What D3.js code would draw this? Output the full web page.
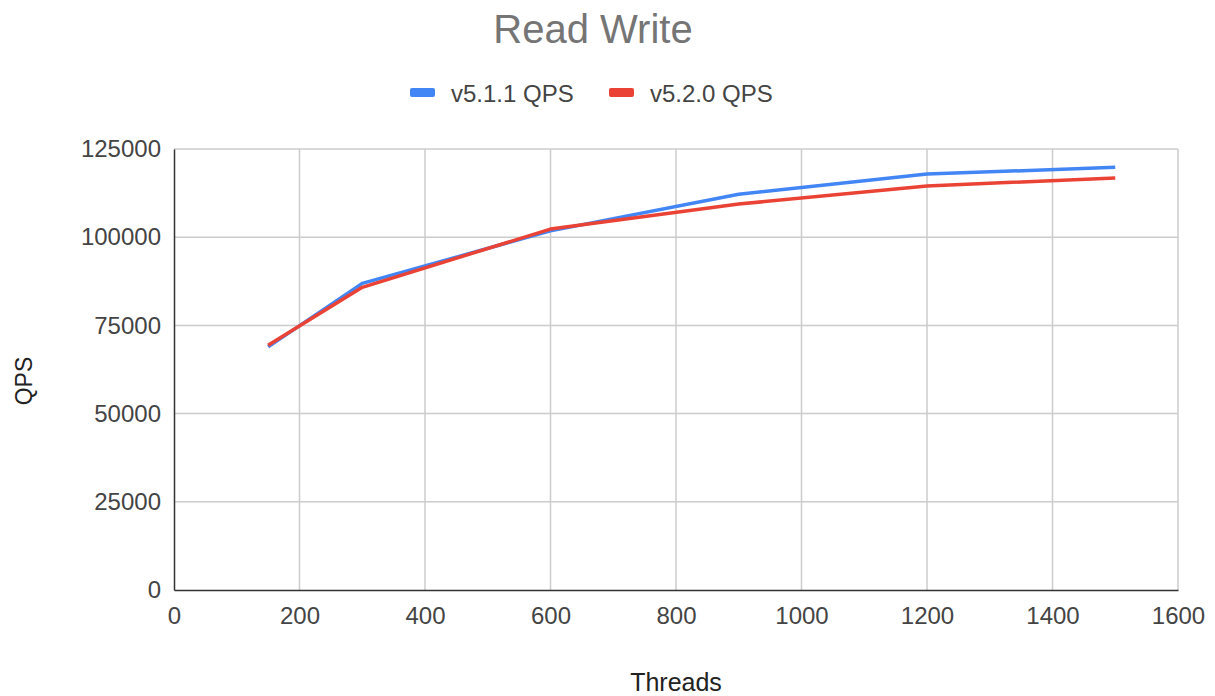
<!DOCTYPE html>
<html>
<head>
<meta charset="utf-8">
<script src="https://cdn.jsdelivr.net/npm/d3@7"></script>
<style>
  body { margin: 0; background: #fff; }
  svg { font-family: "Liberation Sans", Arial, sans-serif; }
</style>
</head>
<body>
<div id="chart"></div>
<script>
// data
const threads = [150, 300, 600, 900, 1200, 1500];
const qps511 = [68900, 86900, 101800, 112200, 117900, 119800];
const qps520 = [69400, 85800, 102300, 109400, 114500, 116800];
const seriesNames = ["v5.1.1 QPS", "v5.2.0 QPS"];
const seriesColors = ["#4285f4", "#ea4335"];
const xTicks = [0, 200, 400, 600, 800, 1000, 1200, 1400, 1600];
const yTicks = [0, 25000, 50000, 75000, 100000, 125000];

const width = 1215, height = 696;
const margin = { top: 149, right: 37, bottom: 106, left: 174 };

const svg = d3.select("#chart").append("svg")
  .attr("width", width)
  .attr("height", height);

const x = d3.scaleLinear().domain([0, 1600]).range([margin.left, width - margin.right]);
const y = d3.scaleLinear().domain([0, 125000]).range([height - margin.bottom, margin.top]);

// grid
svg.append("g").selectAll("line.v")
  .data(xTicks.slice(1))
  .enter().append("line")
  .attr("x1", d => x(d)).attr("x2", d => x(d))
  .attr("y1", y(0)).attr("y2", y(125000))
  .attr("stroke", "#cccccc").attr("stroke-width", 1.5);

svg.append("g").selectAll("line.h")
  .data(yTicks.slice(1))
  .enter().append("line")
  .attr("x1", x(0)).attr("x2", x(1600))
  .attr("y1", d => y(d)).attr("y2", d => y(d))
  .attr("stroke", "#cccccc").attr("stroke-width", 1.5);

// axes
const xAxis = svg.append("g")
  .attr("transform", `translate(0,${y(0)})`)
  .call(d3.axisBottom(x).tickValues(xTicks).tickSize(0).tickPadding(17).tickFormat(d3.format("d")));
xAxis.select(".domain").attr("stroke", "#333").attr("stroke-width", 1.5);
xAxis.selectAll("text").attr("font-size", 24).attr("fill", "#444")
  .attr("font-family", "Liberation Sans, Arial, sans-serif");

const yAxis = svg.append("g")
  .attr("transform", `translate(${x(0)},0)`)
  .call(d3.axisLeft(y).tickValues(yTicks).tickSize(0).tickPadding(13).tickFormat(d3.format("d")));
yAxis.select(".domain").attr("stroke", "#333").attr("stroke-width", 1.5);
yAxis.selectAll("text").attr("font-size", 24).attr("fill", "#444")
  .attr("font-family", "Liberation Sans, Arial, sans-serif");

// lines
const line = d3.line()
  .x((d, i) => x(threads[i]))
  .y(d => y(d));

[qps511, qps520].forEach((vals, k) => {
  svg.append("path")
    .datum(vals)
    .attr("fill", "none")
    .attr("stroke", seriesColors[k])
    .attr("stroke-width", 3.5)
    .attr("stroke-linejoin", "round")
    .attr("d", line);
});

// title
svg.append("text")
  .attr("x", 593).attr("y", 43)
  .attr("text-anchor", "middle")
  .attr("font-size", 40)
  .attr("fill", "#757575")
  .text("Read Write");

// legend
const legendX = [410, 609];
seriesNames.forEach((name, k) => {
  svg.append("rect")
    .attr("x", legendX[k]).attr("y", 88)
    .attr("width", 25).attr("height", 9)
    .attr("rx", 2)
    .attr("fill", seriesColors[k]);
  svg.append("text")
    .attr("x", legendX[k] + 41).attr("y", 102)
    .attr("font-size", 24)
    .attr("fill", "#444")
    .text(name);
});

// axis titles
svg.append("text")
  .attr("x", 676).attr("y", 691)
  .attr("text-anchor", "middle")
  .attr("font-size", 25)
  .attr("fill", "#222")
  .text("Threads");

svg.append("text")
  .attr("transform", `translate(32,381) rotate(-90)`)
  .attr("text-anchor", "middle")
  .attr("font-size", 23)
  .attr("fill", "#222")
  .text("QPS");
</script>
</body>
</html>
